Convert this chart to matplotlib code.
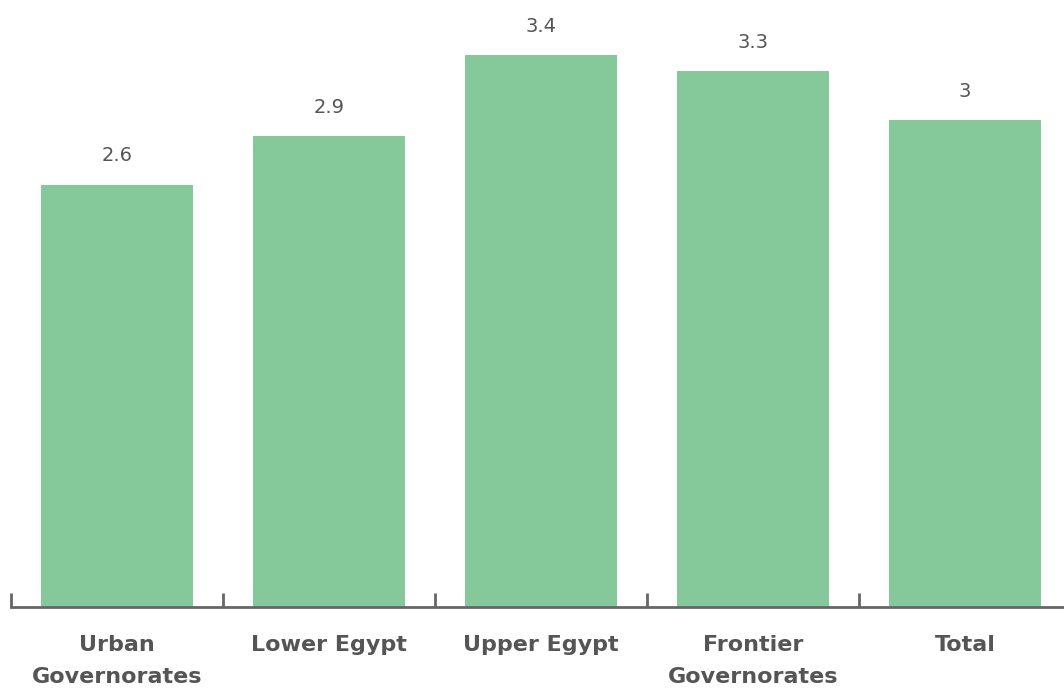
import matplotlib
matplotlib.use("Agg")
import matplotlib.pyplot as plt
from matplotlib.ticker import FixedLocator

categories = ["Urban\nGovernorates", "Lower Egypt", "Upper Egypt", "Frontier\nGovernorates", "Total"]
values = [2.6, 2.9, 3.4, 3.3, 3.0]
value_labels = ["2.6", "2.9", "3.4", "3.3", "3"]

bar_color = "#85C99B"
text_color = "#555555"
axis_color = "#666666"

fig = plt.figure(figsize=(10.64, 6.9), dpi=100)
# axes spans the category bands; the last band runs just past the right edge
ax = fig.add_axes([11 / 1064, 83 / 690, 1060 / 1064, 607 / 690])

x = list(range(len(categories)))
ax.bar(x, values, width=0.72, color=bar_color, zorder=2)

for xi, v, lab in zip(x, values, value_labels):
    ax.annotate(lab, (xi, v), xytext=(0, 14), textcoords="offset points",
                ha="center", va="bottom", fontsize=14, color=text_color,
                family="DejaVu Sans")

ax.set_xlim(-0.5, len(categories) - 0.5)
ax.set_ylim(0, 3.739)

for side in ("top", "right", "left"):
    ax.spines[side].set_visible(False)
ax.spines["bottom"].set_color(axis_color)
ax.spines["bottom"].set_linewidth(2)

ax.set_yticks([])
ax.set_xticks(x)
ax.set_xticklabels(categories, fontsize=16, fontweight="bold", color=text_color,
                   family="DejaVu Sans", linespacing=1.75)
ax.tick_params(axis="x", which="major", length=0, pad=20)
ax.xaxis.set_minor_locator(FixedLocator([i - 0.5 for i in range(len(categories) + 1)]))
ax.tick_params(axis="x", which="minor", direction="in", length=10, width=2, color=axis_color)

fig.savefig("out.png", dpi=100)
